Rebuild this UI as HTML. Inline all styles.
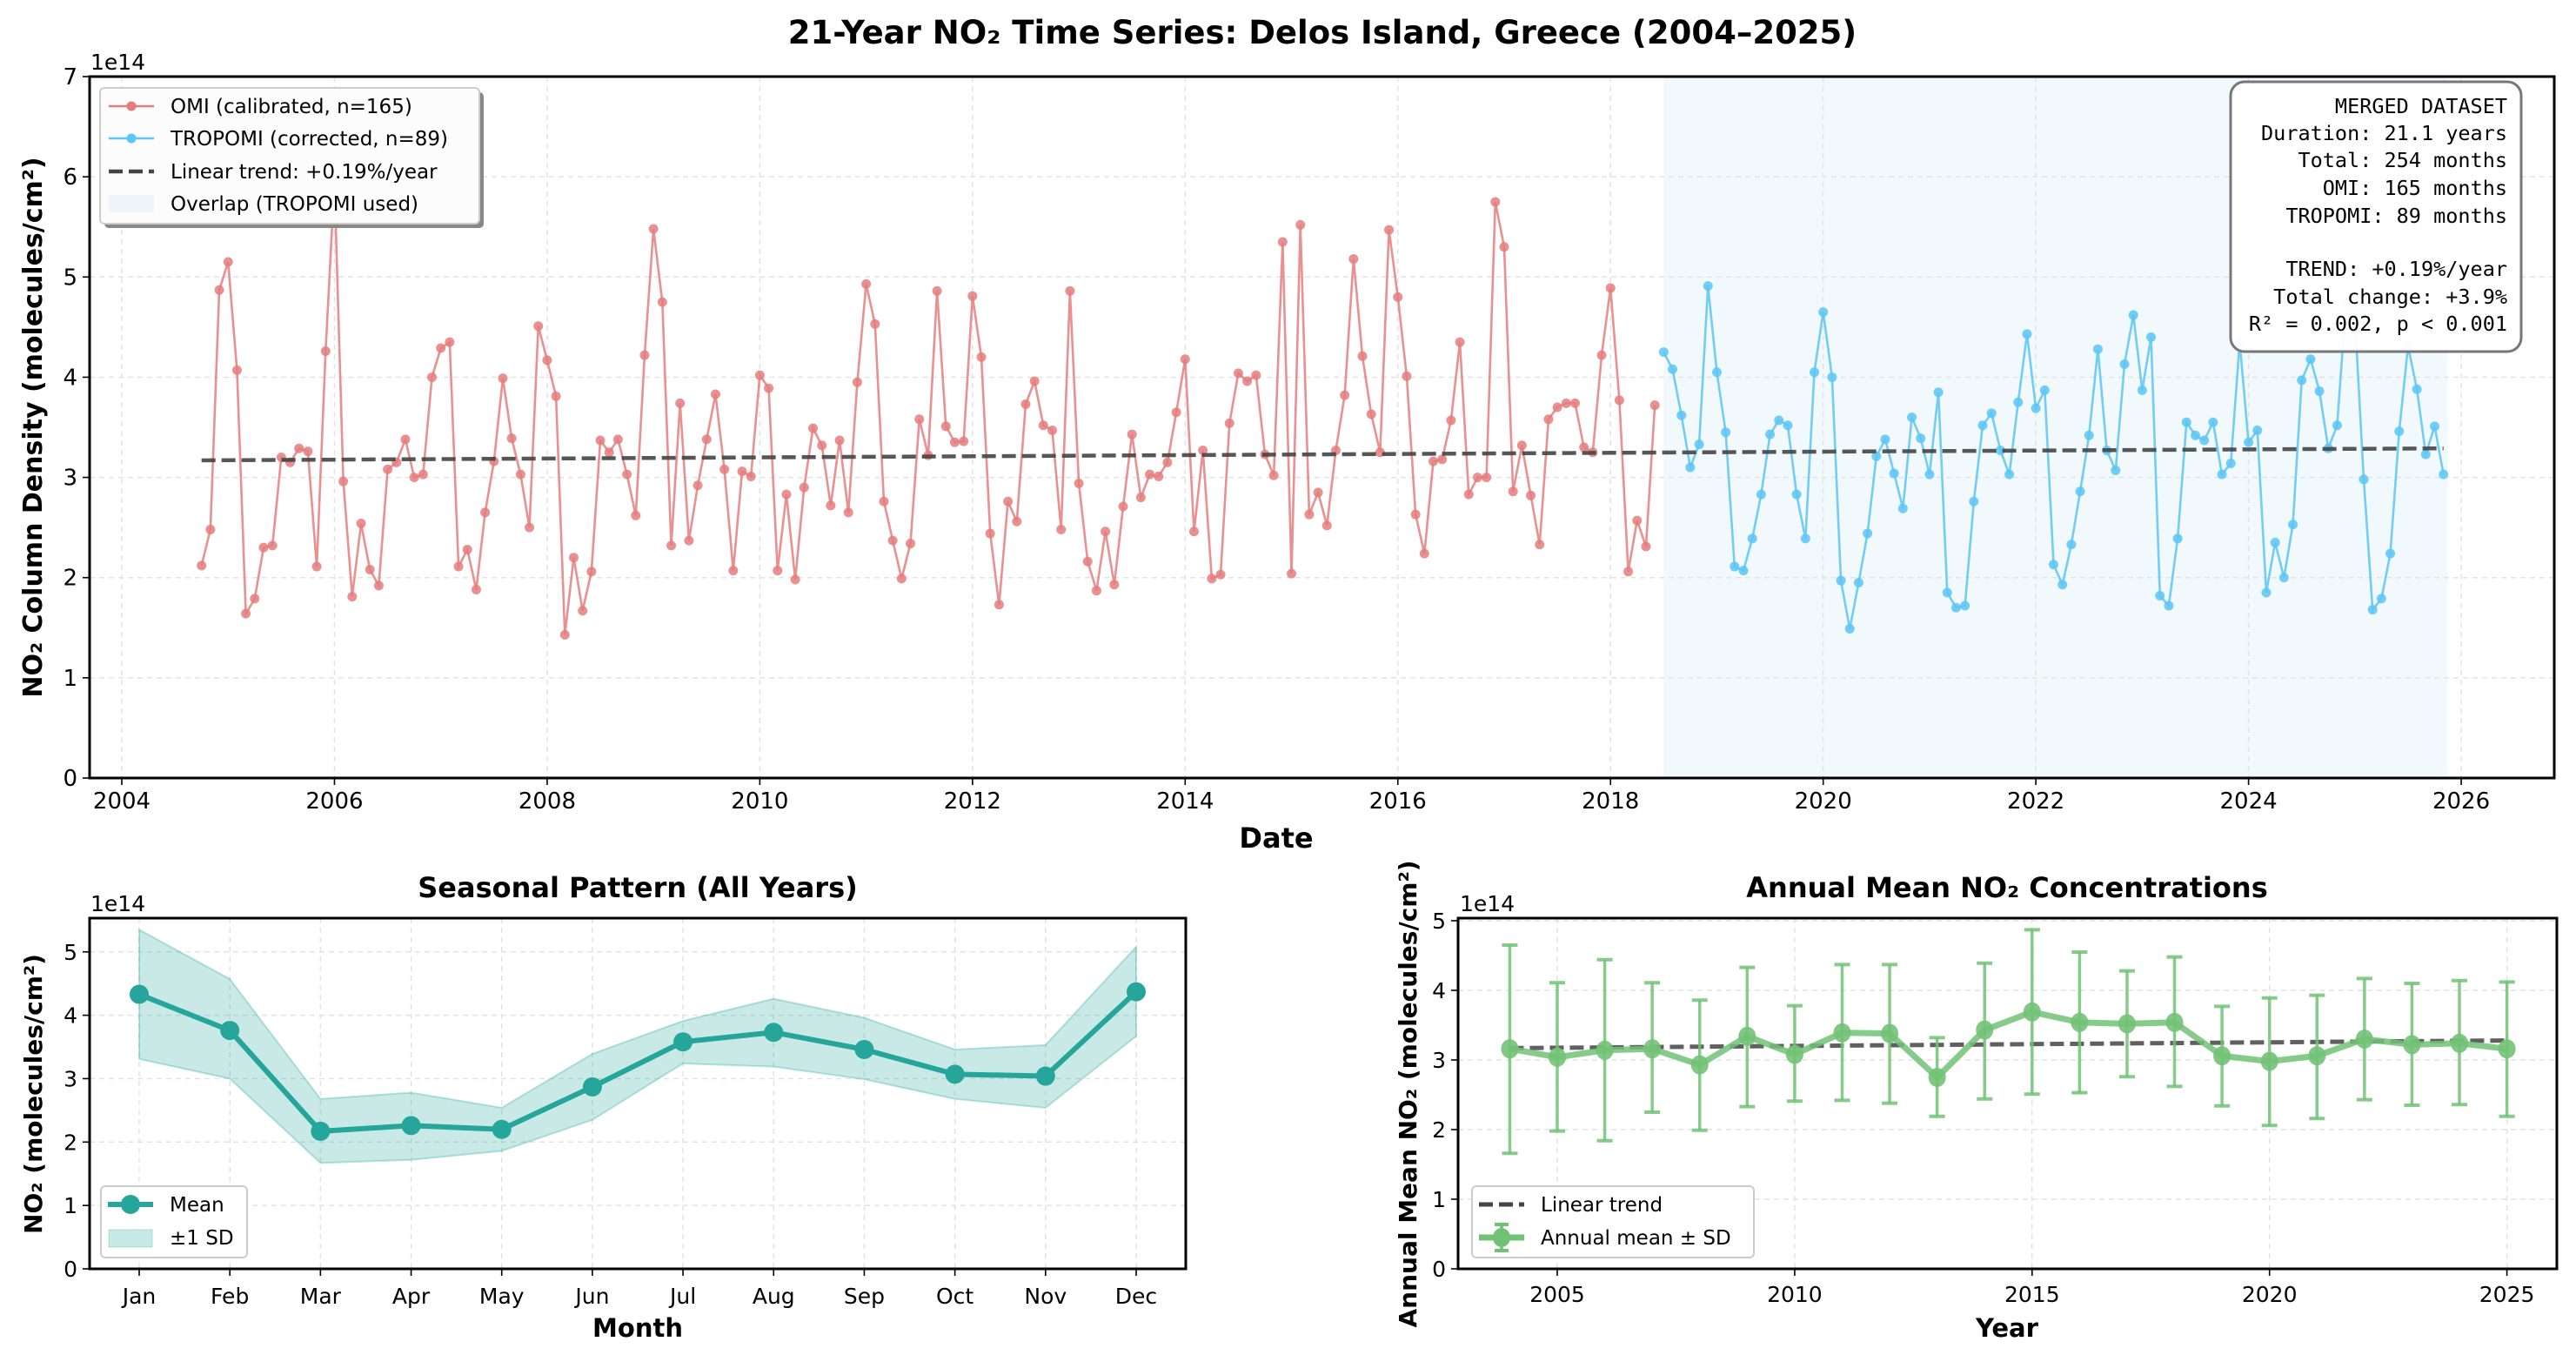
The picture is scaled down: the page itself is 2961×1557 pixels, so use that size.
<!DOCTYPE html>
<html><head><meta charset="utf-8"><style>
body{margin:0;background:#fff}
svg{display:block}
text{font-family:"DejaVu Sans","Liberation Sans",sans-serif;fill:#000}
.mono{font-family:"DejaVu Sans Mono","Liberation Mono",monospace}
</style></head><body>
<svg id="fig" width="2961" height="1557" viewBox="0 0 2961 1557" xmlns="http://www.w3.org/2000/svg">
<text x="1520" y="50" text-anchor="middle" font-size="37" font-weight="bold">21-Year NO₂ Time Series: Delos Island, Greece (2004–2025)</text>
<g id="main"></g>
<g id="seas"></g>
<g id="ann"></g>
</svg>
<script>
const omiStart = 2004.75;
const omiValues = [2.12,2.48,4.87,5.15,4.07,1.64,1.79,2.30,2.32,3.20,3.15,3.29,3.26,2.11,4.26,5.95,2.96,1.81,2.54,2.08,1.92,3.08,3.15,3.38,3.00,3.03,4.00,4.29,4.35,2.11,2.28,1.88,2.65,3.16,3.99,3.39,3.03,2.50,4.51,4.17,3.81,1.43,2.20,1.67,2.06,3.37,3.25,3.38,3.03,2.62,4.22,5.48,4.75,2.32,3.74,2.37,2.92,3.38,3.83,3.08,2.07,3.06,3.01,4.02,3.89,2.07,2.83,1.98,2.90,3.49,3.32,2.72,3.37,2.65,3.95,4.93,4.53,2.76,2.37,1.99,2.34,
3.58,3.22,4.86,3.51,3.35,3.36,4.81,4.20,2.44,1.73,2.76,2.56,3.73,3.96,3.52,3.47,2.48,4.86,2.94,2.16,1.87,2.46,1.93,2.71,3.43,2.80,3.03,3.01,3.15,3.65,4.18,2.46,3.27,1.99,2.03,3.54,4.04,3.96,4.02,3.23,3.02,5.35,2.04,5.52,2.63,2.85,2.52,3.27,3.82,5.18,4.21,3.63,3.25,5.47,4.80,4.01,2.63,2.24,3.16,3.18,3.57,4.35,2.83,3.00,3.00,5.75,5.30,2.86,3.32,2.82,2.33,3.58,3.70,3.74,3.74,3.30,3.25,4.22,4.89,3.77,2.06,2.57,2.31,3.72];
const tropStart = 2018.5;
const tropValues = [4.25,4.08,3.62,3.10,3.33,4.91,4.05,3.45,2.11,2.07,2.39,2.83,3.43,3.57,3.52,2.83,2.39,4.05,4.65,4.00,1.97,1.49,1.95,2.44,3.21,3.38,3.04,2.69,3.60,3.39,3.03,3.85,1.85,1.70,1.72,2.76,3.52,3.64,3.27,3.03,3.75,4.43,3.69,3.87,2.13,1.93,2.33,2.86,3.42,4.28,3.27,3.07,4.13,4.62,3.87,4.40,1.82,1.72,2.39,3.55,3.42,3.37,3.55,3.03,3.14,4.35,3.35,3.47,1.85,2.35,2.00,2.53,3.97,4.18,3.86,3.29,3.52,4.75,4.60,2.98,1.68,1.79,2.24,3.46,4.31,3.88,3.23,3.51,3.03];
const trendEnds = [3.17, 3.29];
const mainYTicks = [0,1,2,3,4,5,6,7];
const mainXTicks = [2004,2006,2008,2010,2012,2014,2016,2018,2020,2022,2024,2026];
const overlapRange = [2018.5, 2025.875];
const statsLines = ["MERGED DATASET","Duration: 21.1 years","Total: 254 months","OMI: 165 months","TROPOMI: 89 months","","TREND: +0.19%/year","Total change: +3.9%","R² = 0.002, p < 0.001"];

const months = ["Jan","Feb","Mar","Apr","May","Jun","Jul","Aug","Sep","Oct","Nov","Dec"];
const seasMean = [4.33,3.76,2.17,2.26,2.20,2.87,3.58,3.73,3.46,3.07,3.04,4.37];
const seasUpper = [5.35,4.57,2.68,2.78,2.54,3.39,3.91,4.26,3.96,3.46,3.53,5.08];
const seasLower = [3.31,3.00,1.67,1.72,1.86,2.35,3.24,3.19,2.99,2.68,2.54,3.67];
const seasYTicks = [0,1,2,3,4,5];

const annYears = [2004,2005,2006,2007,2008,2009,2010,2011,2012,2013,2014,2015,2016,2017,2018,2019,2020,2021,2022,2023,2024,2025];
const annMean = [3.16,3.04,3.14,3.16,2.93,3.34,3.08,3.39,3.38,2.75,3.43,3.69,3.54,3.52,3.54,3.06,2.98,3.06,3.30,3.22,3.24,3.16];
const annUpper = [4.65,4.11,4.44,4.11,3.86,4.33,3.78,4.37,4.37,3.32,4.39,4.87,4.55,4.28,4.48,3.77,3.89,3.93,4.17,4.10,4.14,4.12];
const annLower = [1.66,1.98,1.84,2.25,1.99,2.33,2.41,2.42,2.38,2.19,2.44,2.51,2.53,2.76,2.62,2.34,2.06,2.16,2.43,2.35,2.36,2.19];
const annTrend = [3.17, 3.28];
const annYTicks = [0,1,2,3,4,5];
const annXTicks = [2005,2010,2015,2020,2025];

const NS="http://www.w3.org/2000/svg";
function mk(parent, tag, attrs, txt){const e=document.createElementNS(NS,tag);for(const k in attrs)e.setAttribute(k,attrs[k]);if(txt!==undefined)e.textContent=txt;parent.appendChild(e);return e;}

/* ---------- MAIN ---------- */
(function(){
const g=document.getElementById('main');
const L=103,R=2936,T=88,B=894;
const X=y=>140+(y-2004)*122.23;
const Y=v=>B-v*115.14;
let e;
e=mk(g,'rect',{x:X(overlapRange[0]),y:T,width:X(overlapRange[1])-X(overlapRange[0]),height:B-T,fill:'#f1f9fd'});

mainXTicks.forEach(t=>{
 e=mk(g,'line',{x1:X(t),x2:X(t),y1:T,y2:B,stroke:'#e3e3e3','stroke-width':1.5,'stroke-dasharray':'6,5'});
 
 mk(g,'line',{x1:X(t),x2:X(t),y1:B,y2:B+8,stroke:'#000','stroke-width':1.6});
 e=mk(g,'text',{x:X(t),y:B+35,'text-anchor':'middle','font-size':26},String(t));
 
});
mainYTicks.forEach(t=>{
 if(t>0&&t<7){e=mk(g,'line',{x1:L,x2:R,y1:Y(t),y2:Y(t),stroke:'#e3e3e3','stroke-width':1.5,'stroke-dasharray':'6,5'});
 }
 mk(g,'line',{x1:L-8,x2:L,y1:Y(t),y2:Y(t),stroke:'#000','stroke-width':1.6});
 e=mk(g,'text',{x:L-14,y:Y(t)+9,'text-anchor':'end','font-size':26},String(t));
 
});
function series(vals,start,color,name){
 const pts=vals.map((v,i)=>[X(start+i/12),Y(v)]);
 e=mk(g,'polyline',{points:pts.map(p=>p.join(',')).join(' '),fill:'none',stroke:color,'stroke-width':2.6,'stroke-opacity':0.85});
 
 pts.forEach(p=>{e=mk(g,'circle',{cx:p[0],cy:p[1],r:5.5,fill:color,'fill-opacity':0.85});
  });
}
series(omiValues,omiStart,'#e57c7c','omi');
series(tropValues,tropStart,'#5cc6f4','tropomi');
const tEnd=tropStart+(tropValues.length-1)/12;
e=mk(g,'line',{x1:X(omiStart),y1:Y(trendEnds[0]),x2:X(tEnd),y2:Y(trendEnds[1]),stroke:'#444','stroke-width':4.5,'stroke-dasharray':'16,7','stroke-opacity':0.9});

mk(g,'rect',{x:L,y:T,width:R-L,height:B-T,fill:'none',stroke:'#000','stroke-width':3});
e=mk(g,'text',{x:104,y:80,'font-size':25},'1e14');
e=mk(g,'text',{x:1467,y:974,'text-anchor':'middle','font-size':32,'font-weight':'bold'},'Date');
e=mk(g,'text',{x:0,y:0,'text-anchor':'middle','font-size':30,'font-weight':'bold',transform:'translate(48,491) rotate(-90)'},'NO₂ Column Density (molecules/cm²)');
const lg=mk(g,'g',{});
mk(lg,'rect',{x:120,y:106,width:436,height:156,rx:5,fill:'#888'});
mk(lg,'rect',{x:115,y:101,width:436,height:156,rx:5,fill:'#fcfcfc',stroke:'#ccc','stroke-width':2});
const rows=[122,159,197,234];
mk(lg,'line',{x1:125,x2:177,y1:rows[0],y2:rows[0],stroke:'#e57c7c','stroke-width':2.6});mk(lg,'circle',{cx:151,cy:rows[0],r:5.5,fill:'#e57c7c'});
mk(lg,'line',{x1:125,x2:177,y1:rows[1],y2:rows[1],stroke:'#5cc6f4','stroke-width':2.6});mk(lg,'circle',{cx:151,cy:rows[1],r:5.5,fill:'#5cc6f4'});
mk(lg,'line',{x1:125,x2:177,y1:rows[2],y2:rows[2],stroke:'#444','stroke-width':4.5,'stroke-dasharray':'16,7'});
mk(lg,'rect',{x:125,y:rows[3]-10,width:52,height:20,fill:'#eef6fb'});
const lt=['OMI (calibrated, n=165)','TROPOMI (corrected, n=89)','Linear trend: +0.19%/year','Overlap (TROPOMI used)'];
lt.forEach((t,i)=>{e=mk(lg,'text',{x:196,y:rows[i]+8,'font-size':23},t);});
const sb=mk(g,'g',{});
mk(sb,'rect',{x:2564,y:94,width:334,height:310,rx:16,fill:'#fff','fill-opacity':0.95,stroke:'#777','stroke-width':3});
const sy=[123,154,185,217,249,280,310,342,373];
statsLines.forEach((t,i)=>{if(!t)return;e=mk(sb,'text',{x:2882,y:sy[i]+7,'text-anchor':'end','font-size':23.5,'class':'mono'},t);});
})();

/* ---------- SEASONAL ---------- */
(function(){
const g=document.getElementById('seas');
const L=103,R=1363,T=1055,B=1458;
const X=i=>160+i*104.18;
const Y=v=>B-v*72.85;
let e;
months.forEach((m,i)=>{
 e=mk(g,'line',{x1:X(i),x2:X(i),y1:T,y2:B,stroke:'#e3e3e3','stroke-width':1.5,'stroke-dasharray':'6,5'});
 mk(g,'line',{x1:X(i),x2:X(i),y1:B,y2:B+8,stroke:'#000','stroke-width':1.6});
 e=mk(g,'text',{x:X(i),y:B+40,'text-anchor':'middle','font-size':25},m);
});
seasYTicks.forEach(t=>{
 if(t>0){e=mk(g,'line',{x1:L,x2:R,y1:Y(t),y2:Y(t),stroke:'#e3e3e3','stroke-width':1.5,'stroke-dasharray':'6,5'});}
 mk(g,'line',{x1:L-8,x2:L,y1:Y(t),y2:Y(t),stroke:'#000','stroke-width':1.6});
 e=mk(g,'text',{x:L-14,y:Y(t)+9,'text-anchor':'end','font-size':25},String(t));
});
const up=seasUpper.map((v,i)=>X(i)+','+Y(v));const lo=seasLower.map((v,i)=>X(i)+','+Y(v)).reverse();
e=mk(g,'polygon',{points:up.concat(lo).join(' '),fill:'#26a69a','fill-opacity':0.25,stroke:'#26a69a','stroke-opacity':0.3,'stroke-width':2});

e=mk(g,'polyline',{points:seasMean.map((v,i)=>X(i)+','+Y(v)).join(' '),fill:'none',stroke:'#26a69a','stroke-width':6});

seasMean.forEach((v,i)=>{e=mk(g,'circle',{cx:X(i),cy:Y(v),r:11,fill:'#26a69a'});});
mk(g,'rect',{x:L,y:T,width:R-L,height:B-T,fill:'none',stroke:'#000','stroke-width':3});
e=mk(g,'text',{x:104,y:1047,'font-size':25},'1e14');
e=mk(g,'text',{x:733,y:1031,'text-anchor':'middle','font-size':32,'font-weight':'bold'},'Seasonal Pattern (All Years)');
e=mk(g,'text',{x:733,y:1536,'text-anchor':'middle','font-size':29,'font-weight':'bold'},'Month');
e=mk(g,'text',{x:0,y:0,'text-anchor':'middle','font-size':28,'font-weight':'bold',transform:'translate(48,1257) rotate(-90)'},'NO₂ (molecules/cm²)');
const lg=mk(g,'g',{});
mk(lg,'rect',{x:116,y:1363,width:168,height:82,rx:5,fill:'#fff',stroke:'#ccc','stroke-width':2});
mk(lg,'line',{x1:124,x2:176,y1:1384,y2:1384,stroke:'#26a69a','stroke-width':6});mk(lg,'circle',{cx:150,cy:1384,r:11,fill:'#26a69a'});
mk(lg,'rect',{x:125,y:1413,width:50,height:20,fill:'#26a69a','fill-opacity':0.25,stroke:'#26a69a','stroke-opacity':0.3});
e=mk(lg,'text',{x:195,y:1392,'font-size':23},'Mean');
e=mk(lg,'text',{x:195,y:1430,'font-size':23},'±1 SD');
})();

/* ---------- ANNUAL ---------- */
(function(){
const g=document.getElementById('ann');
const L=1676,R=2939,T=1055,B=1458;
const X=y=>1790+(y-2005)*54.58;
const Y=v=>B-v*80.0;
let e;
annXTicks.forEach(t=>{
 e=mk(g,'line',{x1:X(t),x2:X(t),y1:T,y2:B,stroke:'#e3e3e3','stroke-width':1.5,'stroke-dasharray':'6,5'});
 mk(g,'line',{x1:X(t),x2:X(t),y1:B,y2:B+8,stroke:'#000','stroke-width':1.6});
 e=mk(g,'text',{x:X(t),y:B+38,'text-anchor':'middle','font-size':25},String(t));
});
annYTicks.forEach(t=>{
 if(t>0){e=mk(g,'line',{x1:L,x2:R,y1:Y(t),y2:Y(t),stroke:'#e3e3e3','stroke-width':1.5,'stroke-dasharray':'6,5'});}
 mk(g,'line',{x1:L-8,x2:L,y1:Y(t),y2:Y(t),stroke:'#000','stroke-width':1.6});
 e=mk(g,'text',{x:L-14,y:Y(t)+9,'text-anchor':'end','font-size':25},String(t));
});
e=mk(g,'line',{x1:X(annYears[0]),y1:Y(annTrend[0]),x2:X(annYears[annYears.length-1]),y2:Y(annTrend[1]),stroke:'#444','stroke-width':5,'stroke-dasharray':'16,7','stroke-opacity':0.85});

const col='#72c276';
annYears.forEach((yr,i)=>{
 e=mk(g,'line',{x1:X(yr),x2:X(yr),y1:Y(annUpper[i]),y2:Y(annLower[i]),stroke:col,'stroke-width':3.5,'stroke-opacity':0.85});
 mk(g,'line',{x1:X(yr)-9,x2:X(yr)+9,y1:Y(annUpper[i]),y2:Y(annUpper[i]),stroke:col,'stroke-width':4,'stroke-opacity':0.85});
 mk(g,'line',{x1:X(yr)-9,x2:X(yr)+9,y1:Y(annLower[i]),y2:Y(annLower[i]),stroke:col,'stroke-width':4,'stroke-opacity':0.85});
});
e=mk(g,'polyline',{points:annMean.map((v,i)=>X(annYears[i])+','+Y(v)).join(' '),fill:'none',stroke:col,'stroke-width':7,'stroke-opacity':0.85});

annMean.forEach((v,i)=>{e=mk(g,'ellipse',{cx:X(annYears[i]),cy:Y(v),rx:10,ry:11,fill:col,'fill-opacity':0.9});});
mk(g,'rect',{x:L,y:T,width:R-L,height:B-T,fill:'none',stroke:'#000','stroke-width':3});
e=mk(g,'text',{x:1678,y:1047,'font-size':25},'1e14');
e=mk(g,'text',{x:2307,y:1031,'text-anchor':'middle','font-size':32,'font-weight':'bold'},'Annual Mean NO₂ Concentrations');
e=mk(g,'text',{x:2307,y:1536,'text-anchor':'middle','font-size':29,'font-weight':'bold'},'Year');
e=mk(g,'text',{x:0,y:0,'text-anchor':'middle','font-size':28,'font-weight':'bold',transform:'translate(1628,1257) rotate(-90)'},'Annual Mean NO₂ (molecules/cm²)');
const lg=mk(g,'g',{});
mk(lg,'rect',{x:1692,y:1363,width:324,height:82,rx:5,fill:'#fff',stroke:'#ccc','stroke-width':2});
mk(lg,'line',{x1:1700,x2:1752,y1:1384,y2:1384,stroke:'#444','stroke-width':5,'stroke-dasharray':'16,7'});
mk(lg,'line',{x1:1700,x2:1752,y1:1422,y2:1422,stroke:col,'stroke-width':7});
mk(lg,'line',{x1:1726,x2:1726,y1:1407,y2:1437,stroke:col,'stroke-width':3.5});
mk(lg,'line',{x1:1718,x2:1734,y1:1407,y2:1407,stroke:col,'stroke-width':4});
mk(lg,'line',{x1:1718,x2:1734,y1:1437,y2:1437,stroke:col,'stroke-width':4});
mk(lg,'ellipse',{cx:1726,cy:1422,rx:10,ry:11,fill:col});
e=mk(lg,'text',{x:1771,y:1392,'font-size':23},'Linear trend');
e=mk(lg,'text',{x:1771,y:1430,'font-size':23},'Annual mean ± SD');
})();
</script>
</body></html>
